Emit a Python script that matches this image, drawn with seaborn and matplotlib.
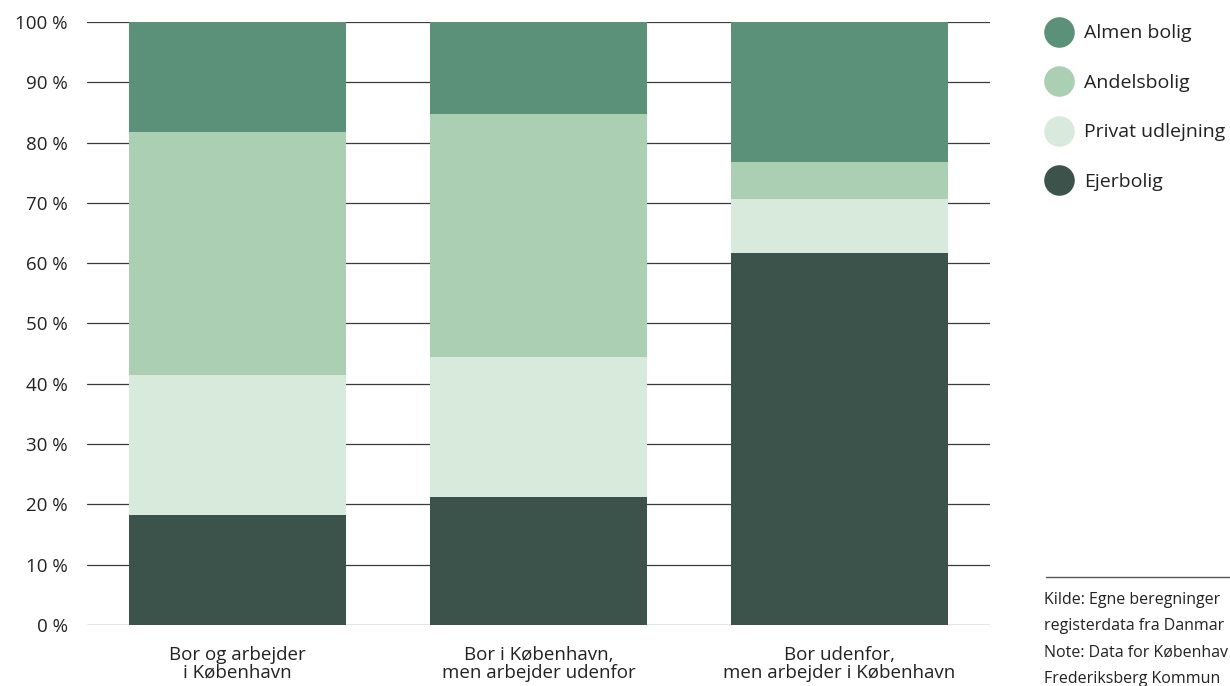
import numpy as np
import pandas as pd
import seaborn as sns
import matplotlib.pyplot as plt
from matplotlib.lines import Line2D

# Data (share in %)
groups = ["Bor og arbejder\ni København",
          "Bor i København,\nmen arbejder udenfor",
          "Bor udenfor,\nmen arbejder i København"]
ejerbolig = [18.2, 21.2, 61.7]
privat_udlejning = [23.3, 23.2, 8.9]
andelsbolig = [40.3, 40.3, 6.2]
almen_bolig = [18.2, 15.3, 23.2]

series = ["Almen bolig", "Andelsbolig", "Privat udlejning", "Ejerbolig"]
colors = ["#5a9178", "#aacfb2", "#d8eadc", "#3b534b"]

df = pd.DataFrame({
    "group": groups,
    "Ejerbolig": ejerbolig,
    "Privat udlejning": privat_udlejning,
    "Andelsbolig": andelsbolig,
    "Almen bolig": almen_bolig,
})
# cumulative tops, bottom series first
stack_order = ["Ejerbolig", "Privat udlejning", "Andelsbolig", "Almen bolig"]
cum = df[stack_order].cumsum(axis=1)

sns.set_style("white")
plt.rcParams["font.family"] = ["Open Sans", "DejaVu Sans"]

fig = plt.figure(figsize=(12.3, 6.86), dpi=100)
ax = fig.add_axes([0.0707, 0.0889, 0.7343, 0.8791])

# draw the tallest cumulative bar first so the lower ones sit on top
for name in reversed(stack_order):
    c = colors[series.index(name)]
    sns.barplot(x=df["group"], y=cum[name], color=c, width=0.72,
                saturation=1, linewidth=0, edgecolor=c, ax=ax, zorder=2)

ax.set_ylim(0, 100)
ax.set_xlim(-0.5, 2.5)
ax.set_yticks(np.arange(0, 101, 10))
ax.set_yticklabels([f"{v} %" for v in range(0, 101, 10)])
ax.yaxis.grid(True, color="#3a3a3a", linewidth=0.9, zorder=0)
ax.set_axisbelow(True)
for s in ax.spines.values():
    s.set_visible(False)
ax.set_xlabel("")
ax.set_ylabel("")
ax.tick_params(axis="y", length=0, pad=14, labelsize=13.5, labelcolor="#222222")
ax.tick_params(axis="x", length=0, pad=15, labelsize=13.5, labelcolor="#222222")
for lbl in ax.get_xticklabels():
    lbl.set_linespacing(1.0)

# legend with round markers
handles = [Line2D([0], [0], marker="o", linestyle="", markersize=21,
                  markerfacecolor=c, markeredgecolor=c) for c in colors]
fig.legend(handles, series, loc="upper left", bbox_to_anchor=(0.838, 0.99),
           frameon=False, fontsize=14, labelspacing=1.62, handletextpad=0.75,
           handlelength=1.1, labelcolor="#222222")

# source note
fig.add_artist(Line2D([0.85, 1.0], [0.159, 0.159], color="#555555",
                      linewidth=1, transform=fig.transFigure))
note = ("Kilde: Egne beregninger\n"
        "registerdata fra Danmar\n"
        "Note: Data for Københav\n"
        "Frederiksberg Kommun")
fig.text(0.849, 0.137, note, ha="left", va="top", fontsize=11.5,
         linespacing=1.85, color="#222222")

fig.savefig("out.png", dpi=100)
